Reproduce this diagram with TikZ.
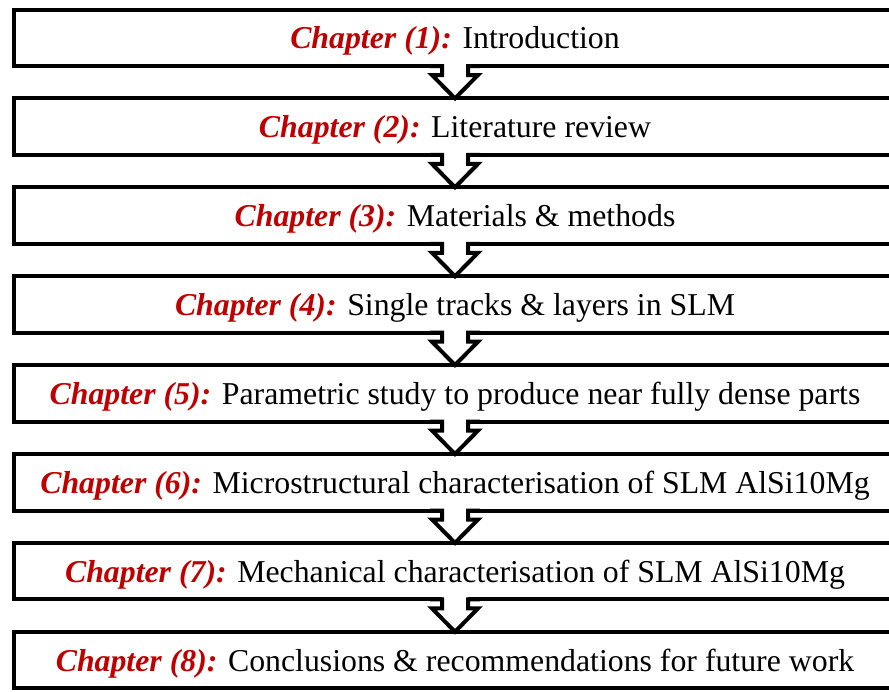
\documentclass[tikz,border=0pt]{standalone}
\usepackage{fontspec}
\setmainfont{Liberation Serif}
\usetikzlibrary{calc}
\definecolor{chapred}{HTML}{C00000}
\tikzset{
  chapbox/.style={draw=black, line width=4pt, minimum width=882pt, minimum height=56.5pt,
    inner sep=0pt, outer sep=0pt, fill=white},
  chaptext/.style={font=\fontsize{31.8pt}{36pt}\selectfont, inner sep=0pt, anchor=base},
  arrline/.style={draw=black, line width=4pt, line join=miter, line cap=butt},
}
\newcommand{\chap}[1]{\textcolor{chapred}{\textbf{\textit{Chapter (#1):}}}}
\begin{document}
\begin{tikzpicture}[x=1pt,y=-1pt]
\useasboundingbox (0,0) rectangle (889,691);
\clip (0,0) rectangle (889,691);
\node[chapbox] (b1) at (455,37.75) {};
\node[chapbox] (b2) at (455,126.65) {};
\node[chapbox] (b3) at (455,215.55) {};
\node[chapbox] (b4) at (455,304.45) {};
\node[chapbox] (b5) at (455,393.35) {};
\node[chapbox] (b6) at (455,482.25) {};
\node[chapbox] (b7) at (455,571.15) {};
\node[chapbox] (b8) at (455,660.05) {};
\node[chaptext] (t1) at ($(b1.center)+(0,11)$) {\chap{1} Introduction};
\node[chaptext] (t2) at ($(b2.center)+(0,11)$) {\chap{2} Literature review};
\node[chaptext] (t3) at ($(b3.center)+(0,11)$) {\chap{3} Materials \& methods};
\node[chaptext] (t4) at ($(b4.center)+(0,11)$) {\chap{4} Single tracks \& layers in SLM};
\node[chaptext] (t5) at ($(b5.center)+(0,11)$) {\chap{5} Parametric study to produce near fully dense parts};
\node[chaptext] (t6) at ($(b6.center)+(0,11)$) {\chap{6} Microstructural characterisation of SLM AlSi10Mg};
\node[chaptext] (t7) at ($(b7.center)+(0,11)$) {\chap{7} Mechanical characterisation of SLM AlSi10Mg};
\node[chaptext] (t8) at ($(b8.center)+(0,11)$) {\chap{8} Conclusions \& recommendations for future work};
\foreach \i [evaluate=\i as \j using int(\i+1)] in {1,...,7} {
  \fill[white] ($(b\i.south)+(-13,-2.2)$) -- ($(b\i.south)+(-13,9)$) -- ($(b\i.south)+(-23,9)$)
     -- (b\j.north) -- ($(b\i.south)+(23,9)$) -- ($(b\i.south)+(13,9)$) -- ($(b\i.south)+(13,-2.2)$) -- cycle;
  \draw[arrline] ($(b\i.south)+(-25,0)$) -- ($(b\i.south)+(-13,0)$) -- ($(b\i.south)+(-13,9)$) -- ($(b\i.south)+(-23,9)$)
     -- (b\j.north) -- ($(b\i.south)+(23,9)$) -- ($(b\i.south)+(13,9)$) -- ($(b\i.south)+(13,0)$) -- ($(b\i.south)+(25,0)$);
}
\end{tikzpicture}
\end{document}
